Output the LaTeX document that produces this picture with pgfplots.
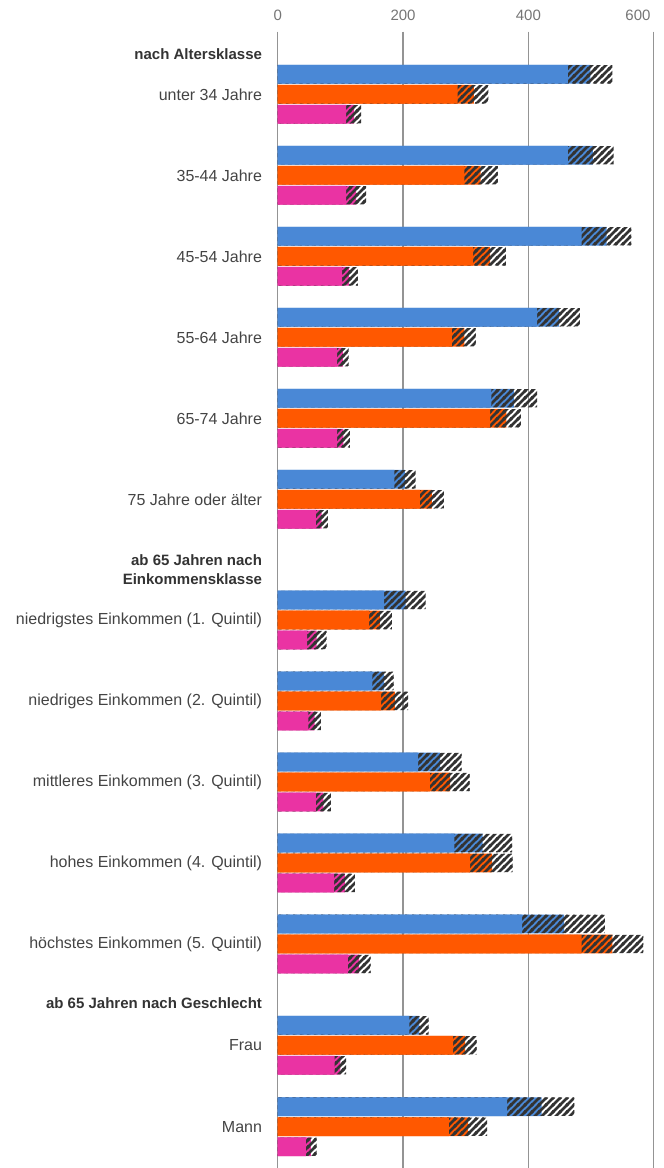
\documentclass[border=0pt]{standalone}
\usepackage{fontspec}
\setmainfont{Liberation Sans}
\usepackage{pgfplots}
\pgfplotsset{compat=1.18}
\usepackage{pgfplotstable}
\usetikzlibrary{patterns}
\definecolor{cblue}{HTML}{4A88D6}
\definecolor{corange}{HTML}{FF5800}
\definecolor{cmag}{HTML}{EA33A3}
\definecolor{hatchc}{HTML}{333333}
\definecolor{gridc}{HTML}{949494}
\definecolor{labc}{HTML}{444444}
\definecolor{headc}{HTML}{333333}
\definecolor{tickc}{HTML}{757575}

\pgfdeclarepatternformonly{hatch}{\pgfqpoint{-1pt}{-1pt}}{\pgfqpoint{8pt}{8pt}}{\pgfqpoint{7pt}{7pt}}{%
  \pgfsetlinewidth{2.5pt}%
  \pgfpathmoveto{\pgfqpoint{-1pt}{-1pt}}\pgfpathlineto{\pgfqpoint{8pt}{8pt}}%
  \pgfpathmoveto{\pgfqpoint{-1pt}{6pt}}\pgfpathlineto{\pgfqpoint{1pt}{8pt}}%
  \pgfpathmoveto{\pgfqpoint{6pt}{-1pt}}\pgfpathlineto{\pgfqpoint{8pt}{1pt}}%
  \pgfusepath{stroke}}

% y = vertical position (px from top), lo = lower bound, v = value, hi = upper bound
\pgfplotstableread{
y      lo  v   hi
74.3   463 499 534
155.3  463 503 536
236.3  485 525 564
317.3  414 449 482
398.3  341 377 414
479.3  186 203 220
600    170 204 236
681    151 170 185
762    224 259 293
843    282 327 374
924    390 457 522
1025.3 210 226 241
1106.7 366 421 473
}\blue
\pgfplotstableread{
y      lo  v   hi
94.3   287 313 336
175.3  298 324 351
256.3  312 339 364
337.3  278 298 316
418.3  339 365 388
499.3  227 246 265
620    146 163 182
701    165 187 208
782    243 275 306
863    307 342 375
944    485 534 583
1045.3 280 299 317
1126.7 273 304 334
}\orange
\pgfplotstableread{
y      lo  v   hi
114.3  109 122 133
195.3  109 125 141
276.3  103 114 128
357.3  95  104 113
438.3  95  105 115
519.3  61  70  80
640    47  62  78
721    49  59  69
802    61  73  85
883    90  107 123
964    112 130 148
1065.3 91  100 109
1146.7 45  53  62
}\magenta

\begin{document}
\begin{tikzpicture}
\begin{axis}[
  scale only axis,
  width=376pt, height=1136.3pt,
  xmin=0, xmax=600,
  ymin=31.7, ymax=1168,
  y dir=reverse,
  axis line style={draw=none},
  major tick length=0pt,
  /pgf/number format/assume math mode=true,
  xtick={0,200,400},
  extra x ticks={600},
  extra x tick labels={600},
  extra x tick style={grid=major, xticklabel style={xshift=-15.7pt}},
  xticklabel pos=upper,
  xmajorgrids,
  major grid style={draw=gridc, line width=1.3pt},
  xticklabel style={font=\fontsize{15}{18}\selectfont, text=tickc, anchor=base, inner sep=0pt, yshift=11pt},
  ytick={94.3,175.3,256.3,337.3,418.3,499.3,620,701,782,863,944,1045.3,1126.7},
  yticklabels={{unter 34 Jahre},{35-44 Jahre},{45-54 Jahre},{55-64 Jahre},{65-74 Jahre},{75 Jahre oder älter},
    {niedrigstes Einkommen (1. Quintil)},{niedriges Einkommen (2. Quintil)},{mittleres Einkommen (3. Quintil)},
    {hohes Einkommen (4. Quintil)},{höchstes Einkommen (5. Quintil)},{Frau},{Mann}},
  yticklabel style={font=\fontsize{16}{19}\selectfont, text=labc, anchor=east, align=right, inner sep=0pt, xshift=-15.5pt},
  extra y ticks={54.5,570,1003},
  extra y tick labels={{nach Altersklasse},{ab 65 Jahren nach\\Einkommensklasse},{ab 65 Jahren nach Geschlecht}},
  extra y tick style={yticklabel style={font=\fontsize{15}{19}\selectfont\bfseries, text=headc}},
  xbar, bar shift=0pt, bar width=18.7pt,
]
% blue
\addplot[xbar, draw=none, fill=cblue] table[x=v, y=y] {\blue};
\addplot[xbar, draw=none, pattern=hatch, pattern color=hatchc, bar width=18.3pt] table[x=hi, y=y] {\blue};
\addplot[xbar, draw=none, fill=cblue] table[x=lo, y=y] {\blue};
% orange
\addplot[xbar, draw=none, fill=corange] table[x=v, y=y] {\orange};
\addplot[xbar, draw=none, pattern=hatch, pattern color=hatchc, bar width=18.3pt] table[x=hi, y=y] {\orange};
\addplot[xbar, draw=none, fill=corange] table[x=lo, y=y] {\orange};
% magenta
\addplot[xbar, draw=none, fill=cmag] table[x=v, y=y] {\magenta};
\addplot[xbar, draw=none, pattern=hatch, pattern color=hatchc, bar width=18.3pt] table[x=hi, y=y] {\magenta};
\addplot[xbar, draw=none, fill=cmag] table[x=lo, y=y] {\magenta};
\end{axis}
\pgfresetboundingbox
\useasboundingbox (-277.7pt,0pt) rectangle (386.3pt,1168pt);
\end{tikzpicture}
\end{document}
